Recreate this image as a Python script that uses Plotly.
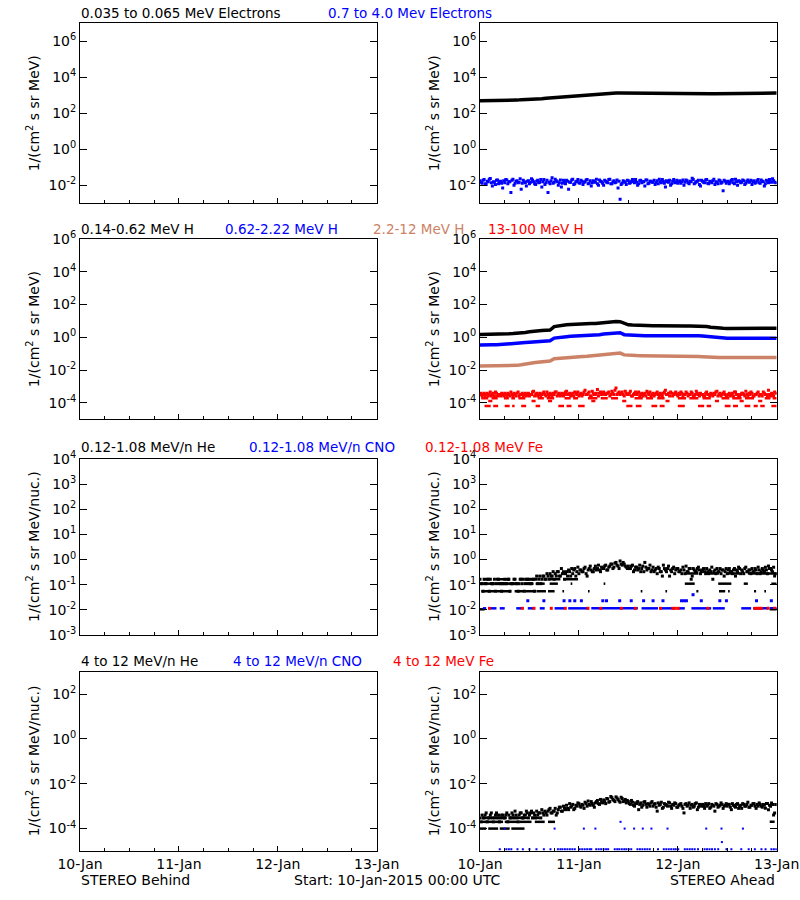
import plotly.graph_objects as go

# ---------------- data ----------------
DAY_LABELS = ["10-Jan", "11-Jan", "12-Jan", "13-Jan"]
DAY_HOURS = [0, 24, 48, 72]
MINOR_HOURS = [6, 12, 18, 30, 36, 42, 54, 60, 66]

# time bases (hours since 10-Jan-2015 00:00)
t_hour = list(range(73))
t_half = [i * 0.5 for i in range(144)]
t_half_b = [0.25 + i * 0.5 for i in range(144)]

# 0.035-0.065 MeV electrons (STEREO Ahead), hourly
e_low_energy = [500, 500, 500, 505, 505, 510, 510, 515,
                525, 540, 575, 580, 600, 605, 630, 650,
                690, 720, 790, 810, 850, 870, 890, 920,
                955, 990, 1050, 1100, 1150, 1200, 1260, 1300,
                1340, 1350, 1350, 1350, 1340, 1350, 1350, 1350,
                1350, 1350, 1340, 1350, 1350, 1350, 1350, 1350,
                1350, 1350, 1350, 1340, 1350, 1350, 1340, 1250,
                1210, 1200, 1200, 1210, 1200, 1200, 1210, 1230,
                1310, 1320, 1320, 1320, 1320, 1330, 1330, 1330, 1330]

# 0.7-4.0 MeV electrons, two interleaved half-hourly samplings
e_high_energy = [0.018, 0.013, 0.021, 0.011, 0.016, 0.024, 0.009, 0.015, 0.019, 0.012, 0.017, 0.007,
                 0.014, 0.020, 0.016, 0.004, 0.022, 0.013, 0.018, 0.015, 0.006, 0.019, 0.014, 0.017,
                 0.012, 0.023, 0.016, 0.011, 0.019, 0.015, 0.008, 0.021, 0.014, 0.004, 0.012, 0.026,
                 0.015, 0.018, 0.010, 0.020, 0.013, 0.016, 0.019, 0.006, 0.015, 0.022, 0.012, 0.017,
                 0.014, 0.019, 0.011, 0.016, 0.021, 0.013, 0.009, 0.018, 0.015, 0.012, 0.020, 0.016,
                 0.010, 0.017, 0.014, 0.022, 0.012, 0.018, 0.015, 0.007, 0.0017, 0.013, 0.016, 0.011,
                 0.018, 0.014, 0.021, 0.014, 0.015, 0.012, 0.019, 0.016, 0.009, 0.020, 0.013, 0.017,
                 0.015, 0.011, 0.018, 0.022, 0.014, 0.017, 0.008, 0.016, 0.019, 0.012, 0.021, 0.015,
                 0.013, 0.018, 0.016, 0.010, 0.020, 0.014, 0.017, 0.025, 0.012, 0.016, 0.019, 0.009,
                 0.017, 0.014, 0.021, 0.012, 0.016, 0.018, 0.011, 0.015, 0.020, 0.013, 0.005, 0.017,
                 0.016, 0.012, 0.019, 0.014, 0.022, 0.010, 0.017, 0.015, 0.018, 0.013, 0.020, 0.016,
                 0.011, 0.018, 0.015, 0.021, 0.013, 0.017, 0.009, 0.019, 0.014, 0.016, 0.023, 0.015]
e_high_energy_b = [0.015, 0.019, 0.012, 0.017, 0.022, 0.014, 0.016, 0.011, 0.020, 0.015, 0.013, 0.018,
                   0.021, 0.012, 0.016, 0.019, 0.010, 0.017, 0.014, 0.023, 0.013, 0.016, 0.009, 0.018,
                   0.015, 0.020, 0.012, 0.017, 0.014, 0.021, 0.016, 0.011, 0.019, 0.015, 0.018, 0.013,
                   0.022, 0.016, 0.014, 0.008, 0.019, 0.012, 0.017, 0.015, 0.020, 0.011, 0.016, 0.021,
                   0.013, 0.017, 0.015, 0.020, 0.012, 0.018, 0.014, 0.016, 0.022, 0.010, 0.017, 0.013,
                   0.019, 0.015, 0.021, 0.012, 0.016, 0.014, 0.020, 0.017, 0.011, 0.018, 0.015, 0.019,
                   0.013, 0.017, 0.016, 0.021, 0.010, 0.018, 0.014, 0.016, 0.020, 0.012, 0.017, 0.015,
                   0.019, 0.014, 0.012, 0.016, 0.021, 0.013, 0.018, 0.015, 0.010, 0.017, 0.014, 0.019,
                   0.016, 0.013, 0.020, 0.015, 0.018, 0.012, 0.016, 0.021, 0.014, 0.017, 0.011, 0.019,
                   0.015, 0.020, 0.013, 0.017, 0.014, 0.022, 0.016, 0.012, 0.018, 0.015, 0.019, 0.013,
                   0.017, 0.015, 0.021, 0.012, 0.016, 0.018, 0.014, 0.020, 0.011, 0.017, 0.015, 0.019,
                   0.016, 0.013, 0.018, 0.014, 0.020, 0.016, 0.012, 0.017, 0.021, 0.015, 0.018, 0.014]

# protons, hourly
h_014_062 = [1.5, 1.5, 1.55, 1.5, 1.6, 1.55, 1.6, 1.65, 1.7, 1.75, 1.8, 2.0,
             2.2, 2.4, 2.5, 2.6, 2.7, 2.8, 4.5, 5.1, 5.6, 5.8, 6.0, 6.3,
             6.5, 6.6, 6.8, 7.0, 7.1, 7.6, 8.3, 8.8, 9.0, 9.3, 9.0, 7.0,
             5.8, 5.6, 5.4, 5.3, 5.2, 5.1, 5.1, 5.1, 5.0, 5.1, 5.0, 5.0,
             5.1, 5.0, 5.0, 5.0, 4.9, 5.0, 5.0, 4.6, 4.1, 3.8, 3.7, 3.6,
             3.5, 3.5, 3.6, 3.5, 3.5, 3.6, 3.5, 3.5, 3.6, 3.5, 3.5, 3.6, 3.6]
h_062_222 = [0.34, 0.33, 0.34, 0.35, 0.35, 0.36, 0.37, 0.38, 0.40, 0.43, 0.45, 0.48,
             0.50, 0.52, 0.54, 0.56, 0.58, 0.62, 0.90, 1.00, 1.05, 1.10, 1.15, 1.18,
             1.20, 1.22, 1.25, 1.30, 1.38, 1.45, 1.58, 1.65, 1.75, 1.85, 1.90, 1.45,
             1.38, 1.30, 1.28, 1.26, 1.26, 1.25, 1.26, 1.24, 1.26, 1.25, 1.26, 1.24,
             1.25, 1.26, 1.25, 1.24, 1.22, 1.23, 1.22, 1.15, 1.00, 0.95, 0.92, 0.90,
             0.88, 0.87, 0.88, 0.87, 0.86, 0.87, 0.88, 0.87, 0.86, 0.87, 0.88, 0.87, 0.87]
h_22_12 = [0.018, 0.018, 0.018, 0.019, 0.018, 0.019, 0.019, 0.019, 0.019, 0.0195, 0.021, 0.024,
           0.026, 0.028, 0.030, 0.032, 0.034, 0.036, 0.050, 0.053, 0.056, 0.058, 0.060, 0.063,
           0.066, 0.068, 0.070, 0.074, 0.080, 0.088, 0.095, 0.100, 0.108, 0.115, 0.110, 0.085,
           0.080, 0.078, 0.077, 0.076, 0.076, 0.076, 0.075, 0.076, 0.075, 0.076, 0.075, 0.074,
           0.074, 0.073, 0.072, 0.071, 0.070, 0.068, 0.066, 0.062, 0.060, 0.059, 0.058, 0.058,
           0.058, 0.057, 0.058, 0.058, 0.057, 0.058, 0.058, 0.057, 0.058, 0.057, 0.058, 0.058, 0.058]

# 13-100 MeV H, main band, two interleaved half-hourly samplings
h_13_100 = [3.3e-4, 2.6e-4, 3.9e-4, 3.3e-4, 2.6e-4, 4.6e-4, 3.3e-4, 2.6e-4, 3.9e-4, 3.3e-4, 2.6e-4, 3.3e-4,
            3.9e-4, 2.6e-4, 3.3e-4, 4.6e-4, 2.6e-4, 3.3e-4, 3.9e-4, 2.6e-4, 3.3e-4, 2.6e-4, 3.9e-4, 3.3e-4,
            2.6e-4, 3.3e-4, 5.2e-4, 3.3e-4, 2.6e-4, 3.9e-4, 3.3e-4, 4.6e-4, 2.6e-4, 3.3e-4, 3.9e-4, 2.6e-4,
            3.3e-4, 4.6e-4, 3.3e-4, 2.6e-4, 3.9e-4, 3.3e-4, 5.2e-4, 3.3e-4, 2.6e-4, 3.9e-4, 4.6e-4, 3.3e-4,
            2.6e-4, 3.9e-4, 3.3e-4, 5.9e-4, 3.3e-4, 4.6e-4, 2.6e-4, 3.9e-4, 3.3e-4, 6.5e-4, 3.9e-4, 3.3e-4,
            4.6e-4, 3.3e-4, 3.9e-4, 2.6e-4, 5.2e-4, 3.3e-4, 8.0e-4, 3.9e-4, 3.3e-4, 4.6e-4, 2.6e-4, 3.9e-4,
            3.3e-4, 5.2e-4, 2.6e-4, 3.9e-4, 3.3e-4, 4.6e-4, 3.3e-4, 2.6e-4, 3.9e-4, 5.2e-4, 3.3e-4, 2.6e-4,
            3.9e-4, 3.3e-4, 4.6e-4, 2.6e-4, 3.3e-4, 3.9e-4, 5.9e-4, 3.3e-4, 2.6e-4, 3.9e-4, 3.3e-4, 4.6e-4,
            2.6e-4, 3.3e-4, 3.9e-4, 3.3e-4, 4.6e-4, 2.6e-4, 3.3e-4, 3.9e-4, 2.6e-4, 5.2e-4, 3.3e-4, 3.9e-4,
            3.3e-4, 2.6e-4, 4.6e-4, 3.3e-4, 3.9e-4, 2.6e-4, 3.3e-4, 5.2e-4, 3.3e-4, 2.6e-4, 3.9e-4, 3.3e-4,
            2.6e-4, 3.9e-4, 3.3e-4, 2.6e-4, 4.6e-4, 3.3e-4, 2.6e-4, 3.9e-4, 3.3e-4, 5.2e-4, 2.6e-4, 3.3e-4,
            3.9e-4, 2.6e-4, 3.3e-4, 4.6e-4, 3.3e-4, 2.6e-4, 3.9e-4, 3.3e-4, 5.9e-4, 2.6e-4, 3.3e-4, 4.6e-4]
h_13_100_b = [3.9e-4, 3.3e-4, 2.6e-4, 3.9e-4, 3.3e-4, 2.6e-4, 3.9e-4, 4.6e-4, 2.6e-4, 3.3e-4, 3.9e-4, 2.6e-4,
              3.3e-4, 3.9e-4, 2.6e-4, 3.3e-4, 3.9e-4, 2.6e-4, 4.6e-4, 3.3e-4, 3.9e-4, 3.3e-4, 2.6e-4, 3.9e-4,
              3.3e-4, 4.6e-4, 2.6e-4, 3.9e-4, 3.3e-4, 2.6e-4, 3.9e-4, 3.3e-4, 4.6e-4, 2.6e-4, 3.3e-4, 3.9e-4,
              4.6e-4, 2.6e-4, 3.9e-4, 3.3e-4, 2.6e-4, 4.6e-4, 3.3e-4, 3.9e-4, 3.3e-4, 2.6e-4, 3.9e-4, 4.6e-4,
              3.3e-4, 2.6e-4, 4.6e-4, 3.3e-4, 3.9e-4, 2.6e-4, 5.2e-4, 3.3e-4, 3.9e-4, 2.6e-4, 4.6e-4, 3.9e-4,
              3.3e-4, 3.9e-4, 4.6e-4, 3.3e-4, 3.9e-4, 5.9e-4, 3.3e-4, 4.6e-4, 3.9e-4, 3.3e-4, 5.2e-4, 3.3e-4,
              3.9e-4, 2.6e-4, 3.3e-4, 4.6e-4, 3.9e-4, 2.6e-4, 3.9e-4, 3.3e-4, 2.6e-4, 3.9e-4, 4.6e-4, 3.3e-4,
              2.6e-4, 3.9e-4, 3.3e-4, 3.9e-4, 2.6e-4, 4.6e-4, 3.3e-4, 3.9e-4, 4.6e-4, 2.6e-4, 3.9e-4, 3.3e-4,
              3.9e-4, 4.6e-4, 2.6e-4, 3.3e-4, 3.9e-4, 3.3e-4, 4.6e-4, 2.6e-4, 3.3e-4, 3.9e-4, 2.6e-4, 3.3e-4,
              2.6e-4, 3.9e-4, 3.3e-4, 2.6e-4, 3.3e-4, 3.9e-4, 4.6e-4, 2.6e-4, 3.9e-4, 3.3e-4, 4.6e-4, 2.6e-4,
              3.3e-4, 2.6e-4, 3.9e-4, 4.6e-4, 3.3e-4, 2.6e-4, 3.3e-4, 3.9e-4, 2.6e-4, 3.3e-4, 3.9e-4, 4.6e-4,
              2.6e-4, 3.3e-4, 3.9e-4, 2.6e-4, 3.3e-4, 4.6e-4, 3.3e-4, 2.6e-4, 3.3e-4, 3.9e-4, 2.6e-4, 3.9e-4]
# 13-100 MeV H, low-count runs (start hour, end hour, flux level)
h_13_100_run_start = [0.3, 2.8, 5.8, 7.6, 9.3, 14.0, 16.2, 20.5, 22.6, 26.2, 29.3, 31.8, 37.5, 40.3, 43.0,
                      48.0, 50.8, 54.0, 58.6, 61.2, 64.3, 69.1, 71.0,
                      1.1, 3.2, 6.0, 7.8, 10.0, 13.5, 19.0, 21.0, 23.8, 35.5, 37.8, 41.6, 43.6, 48.0,
                      52.9, 55.0, 59.4, 61.4, 64.2, 66.4, 68.0, 70.7,
                      2.0, 12.5, 16.5, 27.0, 34.5, 45.0, 57.0, 63.0, 67.5]
h_13_100_run_end = [2.0, 4.3, 7.0, 8.5, 11.0, 15.5, 18.0, 22.0, 23.8, 28.5, 31.0, 33.5, 39.5, 42.0, 44.8,
                    50.0, 53.0, 56.0, 60.5, 63.5, 66.5, 70.5, 72.0,
                    2.6, 4.4, 7.2, 8.4, 11.2, 14.6, 20.4, 22.2, 25.4, 37.0, 39.2, 43.0, 44.8, 49.7,
                    54.4, 56.1, 60.8, 62.6, 65.6, 67.4, 69.1, 72.0,
                    3.0, 13.5, 17.5, 28.0, 35.5, 46.0, 58.0, 64.0, 68.5]
h_13_100_run_level = [1.95e-4] * 23 + [6.5e-5] * 22 + [1.3e-4] * 9

# 0.12-1.08 MeV/n He, two interleaved half-hourly samplings
he_low = [0.165, 0.11, 0.165, 0.11, 0.165, 0.165, 0.11, 0.165, 0.11, 0.165, 0.11, 0.11,
          0.165, 0.11, 0.165, 0.11, 0.11, 0.165, 0.11, 0.11, 0.165, 0.165, 0.11, 0.165,
          0.165, 0.11, 0.165, 0.165, 0.11, 0.22, 0.165, 0.22, 0.165, 0.22, 0.275, 0.22,
          0.165, 0.22, 0.33, 0.22, 0.275, 0.165, 0.33, 0.385, 0.22, 0.275, 0.44, 0.33,
          0.275, 0.385, 0.33, 0.5, 0.22, 0.44, 0.385, 0.33, 0.55, 0.44, 0.385, 0.5,
          0.44, 0.6, 0.385, 0.55, 0.66, 0.5, 0.77, 0.55, 0.88, 0.6, 0.66, 0.5,
          0.55, 0.44, 0.6, 0.385, 0.5, 0.44, 0.33, 0.55, 0.77, 0.385, 0.44, 0.33,
          0.5, 0.385, 0.275, 0.44, 0.33, 0.6, 0.385, 0.44, 0.22, 0.33, 0.5, 0.385,
          0.44, 0.33, 0.275, 0.385, 0.55, 0.33, 0.44, 0.22, 0.385, 0.33, 0.5, 0.275,
          0.385, 0.33, 0.44, 0.275, 0.33, 0.165, 0.385, 0.44, 0.33, 0.275, 0.385, 0.33,
          0.275, 0.44, 0.33, 0.385, 0.22, 0.33, 0.44, 0.385, 0.275, 0.5, 0.33, 0.385,
          0.44, 0.33, 0.385, 0.5, 0.275, 0.44, 0.33, 0.385, 0.55, 0.44, 0.33, 0.22]
he_low_b = [0.11, 0.055, 0.11, 0.165, 0.055, 0.11, 0.11, 0.055, 0.165, 0.11, 0.055, 0.11,
            0.11, 0.165, 0.055, 0.11, 0.165, 0.11, 0.055, 0.165, 0.11, 0.055, 0.165, 0.11,
            0.11, 0.165, 0.055, 0.22, 0.165, 0.11, 0.22, 0.165, 0.275, 0.165, 0.22, 0.33,
            0.275, 0.33, 0.22, 0.44, 0.33, 0.275, 0.22, 0.33, 0.44, 0.385, 0.22, 0.5,
            0.385, 0.33, 0.44, 0.275, 0.385, 0.55, 0.33, 0.44, 0.385, 0.6, 0.33, 0.44,
            0.55, 0.385, 0.5, 0.66, 0.44, 0.72, 0.6, 0.44, 0.66, 0.77, 0.55, 0.44,
            0.44, 0.55, 0.33, 0.5, 0.385, 0.6, 0.44, 0.33, 0.5, 0.44, 0.6, 0.385,
            0.33, 0.44, 0.5, 0.33, 0.22, 0.44, 0.33, 0.55, 0.385, 0.44, 0.275, 0.44,
            0.33, 0.385, 0.5, 0.275, 0.33, 0.44, 0.165, 0.44, 0.33, 0.44, 0.385, 0.33,
            0.44, 0.275, 0.33, 0.385, 0.5, 0.33, 0.275, 0.33, 0.44, 0.385, 0.22, 0.44,
            0.385, 0.33, 0.275, 0.44, 0.385, 0.5, 0.275, 0.33, 0.44, 0.33, 0.385, 0.275,
            0.33, 0.44, 0.275, 0.385, 0.33, 0.385, 0.5, 0.275, 0.44, 0.385, 0.5, 0.275]
he_low_run_start = [0.0, 70.3,
                    0.3, 4.0, 8.4, 11.0, 13.7, 16.5, 20.0, 26.2, 39.0, 45.0, 52.5, 58.0, 60.2, 66.5, 69.0,
                    0.3, 3.6, 6.5, 10.8, 13.5, 16.9, 22.0, 30.0, 49.7, 57.8, 64.0, 70.7,
                    0.8, 4.4, 10.8, 16.9, 20.5,
                    49.7, 55.0, 60.0, 65.0]
he_low_run_end = [1.1, 72.0,
                  3.5, 7.6, 10.5, 13.3, 16.0, 18.1, 20.4, 26.6, 39.4, 45.4, 53.0, 59.5, 60.6, 67.0, 69.4,
                  2.7, 6.0, 9.2, 13.0, 15.7, 18.9, 22.4, 30.4, 52.1, 61.0, 65.0, 72.0,
                  1.6, 7.2, 13.3, 19.5, 23.8,
                  53.0, 58.0, 63.0, 72.0]
he_low_run_level = [0.0105] * 2 + [0.055] * 15 + [0.11] * 12 + [0.165] * 5 + [0.28] * 4

# 0.12-1.08 MeV/n CNO
cno_low_run_start = [0.7, 2.3, 4.8, 8.8, 11.6, 14.5, 18.1, 21.4, 27.0, 39.2, 43.6, 48.0, 51.3, 56.5, 63.4, 66.3, 70.3]
cno_low_run_end = [1.5, 4.0, 6.0, 10.0, 12.9, 15.7, 20.5, 26.2, 38.3, 43.2, 47.2, 49.7, 56.1, 59.4, 65.8, 69.9, 72.0]
cno_low_run_level = [0.0115] * 17
cno_low_pts_t = [11.6, 15.5, 20.4, 21.8, 23.0, 24.6, 29.8, 30.7, 33.9, 36.7, 39.7, 42.0, 44.4,
                 48.9, 49.5, 50.1, 53.7, 58.2, 59.8, 67.1, 70.7, 51.7]
cno_low_pts_v = [0.023] * 21 + [0.04]

# 0.12-1.08 MeV Fe
fe_low_t = [2.3, 10.3, 13.1, 17.3, 20.7, 26.2, 29.3, 34.3, 37.7, 43.8, 46.8, 47.4, 48.1,
            55.3, 66.7, 67.3, 67.8, 68.3, 69.9, 71.5]
fe_low_v = [0.0115] * 20

# 4-12 MeV/n He, two interleaved half-hourly samplings
he_high = [3e-4, 4e-4, 3e-4, 5e-4, 3e-4, 4e-4, 3e-4, 3e-4, 5e-4, 4e-4, 3e-4, 4e-4,
           3e-4, 5e-4, 4e-4, 3e-4, 4e-4, 6e-4, 3e-4, 4e-4, 5e-4, 3e-4, 4e-4, 5e-4,
           4e-4, 6e-4, 5e-4, 3e-4, 4e-4, 5e-4, 7e-4, 4e-4, 5e-4, 6e-4, 8e-4, 5e-4,
           6e-4, 4e-4, 7e-4, 9e-4, 6e-4, 8e-4, 1.1e-3, 7e-4, 9e-4, 1.2e-3, 8e-4, 1.0e-3,
           1.3e-3, 9e-4, 1.1e-3, 1.5e-3, 1.0e-3, 1.2e-3, 1.6e-3, 1.1e-3, 1.4e-3, 1.8e-3, 1.2e-3, 1.5e-3,
           1.9e-3, 1.3e-3, 2.1e-3, 1.6e-3, 2.4e-3, 1.8e-3, 2.6e-3, 2.0e-3, 1.5e-3, 2.2e-3, 1.7e-3, 1.4e-3,
           1.6e-3, 1.2e-3, 1.5e-3, 1.0e-3, 1.3e-3, 7e-4, 1.4e-3, 1.1e-3, 1.6e-3, 9e-4, 1.2e-3, 1.4e-3,
           1.0e-3, 1.3e-3, 6e-4, 1.1e-3, 1.5e-3, 9e-4, 1.2e-3, 1.0e-3, 1.4e-3, 8e-4, 1.1e-3, 1.3e-3,
           9e-4, 1.2e-3, 1.0e-3, 5e-4, 1.3e-3, 1.1e-3, 8e-4, 1.2e-3, 1.0e-3, 1.4e-3, 9e-4, 1.1e-3,
           1.2e-3, 8e-4, 1.0e-3, 1.3e-3, 9e-4, 1.1e-3, 6e-4, 1.2e-3, 1.0e-3, 1.4e-3, 8e-4, 1.1e-3,
           1.0e-3, 1.2e-3, 7e-4, 1.1e-3, 9e-4, 1.3e-3, 1.0e-3, 8e-4, 1.2e-3, 1.0e-3, 1.5e-3, 9e-4,
           1.1e-3, 1.3e-3, 8e-4, 1.0e-3, 1.2e-3, 9e-4, 1.1e-3, 1.3e-3, 7e-4, 1.0e-3, 1.2e-3, 5e-4]
he_high_b = [2e-4, 3e-4, 4e-4, 2e-4, 3e-4, 5e-4, 2e-4, 4e-4, 3e-4, 2e-4, 4e-4, 3e-4,
             4e-4, 2e-4, 3e-4, 5e-4, 3e-4, 4e-4, 2e-4, 5e-4, 3e-4, 4e-4, 6e-4, 3e-4,
             5e-4, 3e-4, 4e-4, 6e-4, 5e-4, 3e-4, 5e-4, 6e-4, 4e-4, 7e-4, 5e-4, 6e-4,
             8e-4, 5e-4, 9e-4, 6e-4, 1.0e-3, 7e-4, 8e-4, 1.3e-3, 1.0e-3, 7e-4, 1.1e-3, 1.4e-3,
             1.0e-3, 1.2e-3, 8e-4, 1.3e-3, 1.7e-3, 1.1e-3, 1.3e-3, 9e-4, 1.6e-3, 1.3e-3, 2.0e-3, 1.4e-3,
             1.6e-3, 2.2e-3, 1.5e-3, 2.7e-3, 2.0e-3, 1.6e-3, 2.3e-3, 1.7e-3, 2.5e-3, 1.6e-3, 2.0e-3, 1.8e-3,
             1.3e-3, 1.8e-3, 1.1e-3, 1.4e-3, 1.6e-3, 1.2e-3, 9e-4, 1.5e-3, 1.2e-3, 1.3e-3, 1.0e-3, 1.6e-3,
             1.2e-3, 9e-4, 1.4e-3, 1.2e-3, 8e-4, 1.3e-3, 1.1e-3, 1.5e-3, 1.0e-3, 1.2e-3, 1.4e-3, 9e-4,
             1.1e-3, 1.3e-3, 8e-4, 1.2e-3, 1.0e-3, 1.4e-3, 1.1e-3, 9e-4, 1.3e-3, 7e-4, 1.2e-3, 1.0e-3,
             1.0e-3, 1.3e-3, 1.1e-3, 8e-4, 1.2e-3, 1.0e-3, 1.3e-3, 9e-4, 1.1e-3, 1.2e-3, 1.0e-3, 1.3e-3,
             1.2e-3, 9e-4, 1.3e-3, 1.0e-3, 1.2e-3, 8e-4, 1.1e-3, 1.3e-3, 1.0e-3, 1.2e-3, 9e-4, 1.1e-3,
             1.3e-3, 1.0e-3, 1.2e-3, 1.4e-3, 1.0e-3, 1.2e-3, 8e-4, 1.3e-3, 1.1e-3, 1.4e-3, 4e-4, 1.2e-3]
he_high_run_start = [0.0, 2.0, 4.8, 7.6,
                     0.3, 3.5, 6.0, 9.5, 13.3, 16.5, 70.3,
                     0.5, 3.5, 7.2, 12.5]
he_high_run_end = [1.5, 4.4, 7.2, 10.8,
                   3.0, 5.6, 9.0, 12.5, 15.7, 18.2, 71.5,
                   3.0, 6.5, 11.5, 14.5]
he_high_run_level = [1e-4] * 4 + [2e-4] * 7 + [3e-4] * 4

# 4-12 MeV/n CNO
cno_high_t = [4.8, 6.4, 7.0, 7.6, 9.1, 10.4, 12.0, 13.7, 15.5, 17.1, 18.9, 19.5, 20.0, 20.6, 21.2, 21.8,
              22.4, 23.0, 24.2, 24.8, 25.4, 26.0, 26.6, 27.0, 28.2, 28.8, 29.4, 30.0, 30.6, 31.1, 32.7,
              33.3, 33.8, 34.4, 35.0, 35.5, 36.1, 36.7, 38.2, 38.8, 39.4, 40.0, 40.6, 41.2, 43.2, 44.6,
              45.2, 45.8, 46.4, 47.0, 47.5, 48.1, 49.7, 50.3, 50.9, 51.5, 52.1, 52.9, 54.5, 55.1, 55.7,
              56.3, 57.0, 57.8, 59.8, 61.0, 63.4, 65.2, 66.7, 68.3, 69.3, 70.7, 71.3, 71.9,
              6.0, 18.1, 25.2, 28.0, 35.1, 37.4, 39.5, 41.6, 45.5, 54.9, 58.6, 63.8,
              34.1, 58.7]
cno_high_v = [1.2e-5] * 74 + [1e-4] * 12 + [2e-4, 2.5e-5]

# ---------------- figure ----------------
W, H = 800, 900
FONT = "DejaVu Sans"
BLUE = "#0000FF"
RED = "#FF0000"
SALMON = "#CC8266"


def px(x):
    return x / W


def py(y):
    return 1 - y / H


COL_X = [(80, 376.7), (480, 776.7)]
ROW_Y = [(23.3, 203.3), (239, 419.3), (459, 635), (671.7, 851)]
ROW_RANGE = [(-3, 7), (-5, 6), (-3, 4), (-5, 3)]
ROW_TICKS = [[-2, 0, 2, 4, 6], [-4, -2, 0, 2, 4, 6], [-3, -2, -1, 0, 1, 2, 3, 4], [-4, -2, 0, 2]]

fig = go.Figure()
layout = dict(width=W, height=H, margin=dict(l=0, r=0, t=0, b=0, autoexpand=False),
              paper_bgcolor="white", plot_bgcolor="white", showlegend=False,
              font=dict(family=FONT, size=13, color="black"))

for k in range(8):
    r, c = divmod(k, 2)
    n = k + 1
    xn = "xaxis" if n == 1 else f"xaxis{n}"
    yn = "yaxis" if n == 1 else f"yaxis{n}"
    x0, x1 = COL_X[c]
    y0, y1 = ROW_Y[r]
    layout[xn] = dict(domain=[px(x0), px(x1)], range=[0, 72], anchor=f"y{n}", automargin=False,
                      showgrid=False, zeroline=False, showline=True, linecolor="black",
                      linewidth=1, mirror=True, ticks="inside", ticklen=5, tickcolor="black",
                      tickvals=DAY_HOURS, ticktext=DAY_LABELS, showticklabels=(r == 3),
                      ticklabeloverflow="allow",
                      tickfont=dict(family=FONT, size=14, color="black"),
                      minor=dict(ticks="inside", ticklen=3, tickcolor="black",
                                 tickvals=MINOR_HOURS, showgrid=False))
    layout[yn] = dict(domain=[py(y1), py(y0)], type="log", range=list(ROW_RANGE[r]),
                      anchor=f"x{n}", automargin=False, showgrid=False, zeroline=False, showline=True,
                      linecolor="black", linewidth=1, mirror="ticks", ticks="inside",
                      ticklen=7, tickcolor="black",
                      tickvals=[10.0 ** e for e in ROW_TICKS[r]],
                      ticktext=[f"10<sup>{e}</sup>" for e in ROW_TICKS[r]],
                      tickfont=dict(family=FONT, size=14, color="black"))

fig.update_layout(**layout)


def ax(k):
    n = k + 1
    return ("x" if n == 1 else f"x{n}"), ("y" if n == 1 else f"y{n}")


def add_line(k, x, y, color, width=3.5):
    xa, ya = ax(k)
    fig.add_trace(go.Scatter(x=x, y=y, mode="lines", line=dict(color=color, width=width),
                             xaxis=xa, yaxis=ya, hoverinfo="skip"))


def add_pts(k, x, y, color, size=3):
    xa, ya = ax(k)
    fig.add_trace(go.Scatter(x=x, y=y, mode="markers",
                             marker=dict(color=color, size=size, symbol="square", line=dict(width=0)),
                             xaxis=xa, yaxis=ya, hoverinfo="skip"))


def add_runs(k, starts, ends, levels, color, width=2.5):
    xs, ys = [], []
    for s, e, v in zip(starts, ends, levels):
        xs += [s, e, None]
        ys += [v, v, None]
    add_line(k, xs, ys, color, width)


# STEREO Behind panels: no data, but keep the axes drawn
for k in (0, 2, 4, 6):
    xa, ya = ax(k)
    fig.add_trace(go.Scatter(x=[None], y=[None], mode="markers", xaxis=xa, yaxis=ya,
                             hoverinfo="skip"))

# Row 1 right: electrons
add_line(1, t_hour, e_low_energy, "black", 3.5)
add_pts(1, t_half, e_high_energy, BLUE, 3)
add_pts(1, t_half_b, e_high_energy_b, BLUE, 3)

# Row 2 right: protons
add_line(3, t_hour, h_014_062, "black", 3.5)
add_line(3, t_hour, h_062_222, BLUE, 3.5)
add_line(3, t_hour, h_22_12, SALMON, 3.5)
add_runs(3, h_13_100_run_start, h_13_100_run_end, h_13_100_run_level, RED, 2.5)
add_pts(3, t_half, h_13_100, RED, 3)
add_pts(3, t_half_b, h_13_100_b, RED, 3)

# Row 3 right: 0.12-1.08 MeV/n heavy ions
add_runs(5, he_low_run_start, he_low_run_end, he_low_run_level, "black", 2.5)
add_pts(5, t_half, he_low, "black", 3)
add_pts(5, t_half_b, he_low_b, "black", 3)
add_runs(5, cno_low_run_start, cno_low_run_end, cno_low_run_level, BLUE, 2.5)
add_pts(5, cno_low_pts_t, cno_low_pts_v, BLUE, 3)
add_pts(5, fe_low_t, fe_low_v, RED, 3)

# Row 4 right: 4-12 MeV/n heavy ions
add_runs(7, he_high_run_start, he_high_run_end, he_high_run_level, "black", 2.5)
add_pts(7, t_half, he_high, "black", 3)
add_pts(7, t_half_b, he_high_b, "black", 3)
add_pts(7, cno_high_t, cno_high_v, BLUE, 2)


# ---------------- text ----------------
def txt(x, y, s, color="black", size=13.5, anchor="left", angle=0):
    fig.add_annotation(x=px(x), y=py(y), xref="paper", yref="paper", text=s,
                       showarrow=False, xanchor=anchor, yanchor="middle", textangle=angle,
                       font=dict(family=FONT, size=size, color=color), borderpad=0)


titles = [
    (13, [(80, "0.035 to 0.065 MeV Electrons", "black"), (327, "0.7 to 4.0 Mev Electrons", BLUE)]),
    (229, [(80, "0.14-0.62 MeV H", "black"), (224, "0.62-2.22 MeV H", BLUE),
           (372, "2.2-12 MeV H", SALMON), (487, "13-100 MeV H", RED)]),
    (447, [(80, "0.12-1.08 MeV/n He", "black"), (248, "0.12-1.08 MeV/n CNO", BLUE),
           (424, "0.12-1.08 MeV Fe", RED)]),
    (661, [(80, "4 to 12 MeV/n He", "black"), (232, "4 to 12 MeV/n CNO", BLUE),
           (392, "4 to 12 MeV Fe", RED)]),
]
for ty, items in titles:
    for tx, s, col in items:
        txt(tx, ty, s, col)

ytitles = ["1/(cm<sup>2</sup> s sr MeV)", "1/(cm<sup>2</sup> s sr MeV)",
           "1/(cm<sup>2</sup> s sr MeV/nuc.)", "1/(cm<sup>2</sup> s sr MeV/nuc.)"]
for r in range(4):
    yc = (ROW_Y[r][0] + ROW_Y[r][1]) / 2
    for xc in (33, 433):
        txt(xc, yc, ytitles[r], "black", 14, "center", -90)

txt(80, 880, "STEREO Behind", "black", 14)
txt(293, 880, "Start: 10-Jan-2015 00:00 UTC", "black", 14)
txt(776, 880, "STEREO Ahead", "black", 14, "right")

# drop the browser's default 8 px body margin so the 800x900 figure fills the window
fig.write_html("out.html", config={"displayModeBar": False},
               post_script="document.body.style.margin='0px';")
